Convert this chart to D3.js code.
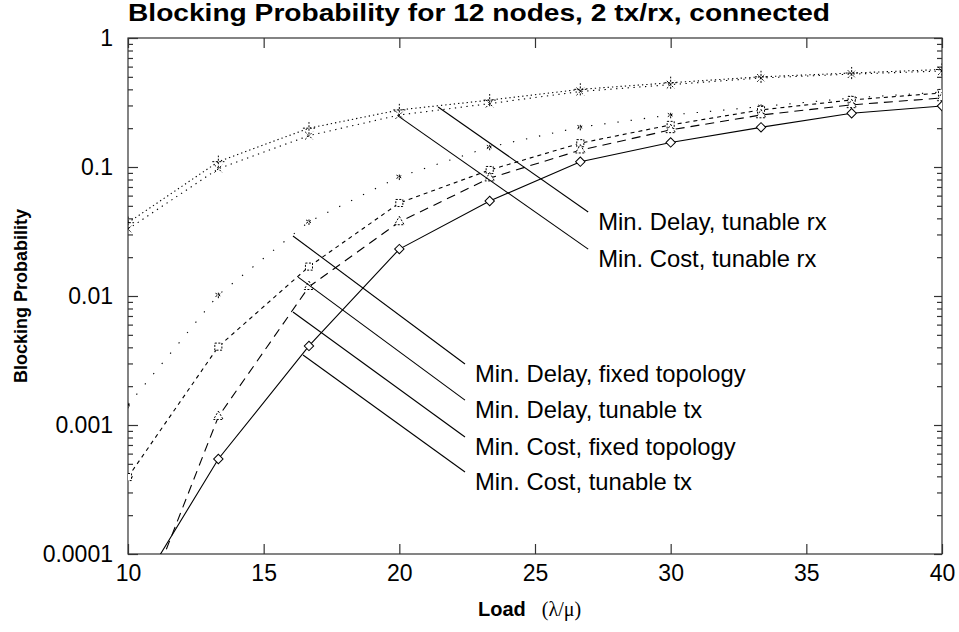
<!DOCTYPE html>
<html>
<head>
<meta charset="utf-8">
<script src="https://cdn.jsdelivr.net/npm/d3@7"></script>
<style>
  html, body { margin: 0; padding: 0; background: #fff; }
  svg { display: block; }
  text { font-family: "Liberation Sans", Arial, Helvetica, sans-serif; fill: #000; }
</style>
</head>
<body>
<svg id="chart" width="959" height="632"></svg>
<script>
// ---------- data ----------
const loads = [10, 13.33, 16.67, 20, 23.33, 26.67, 30, 33.33, 36.67, 40];

const minDelayTunableRx   = [0.037, 0.110, 0.200, 0.277, 0.330, 0.400, 0.450, 0.500, 0.535, 0.570];
const minCostTunableRx    = [0.033, 0.097, 0.175, 0.253, 0.310, 0.385, 0.435, 0.490, 0.525, 0.555];
const minDelayTunableTx   = [0.00143, 0.0102, 0.0377, 0.084, 0.143, 0.204, 0.253, 0.294, 0.343, 0.381];
const minDelayFixed       = [0.000395, 0.00405, 0.0169, 0.0526, 0.0948, 0.153, 0.212, 0.277, 0.331, 0.375];
const minCostFixed        = [0.000019, 0.00116, 0.0118, 0.0375, 0.082, 0.135, 0.194, 0.253, 0.303, 0.343];
const minCostTunableTx    = [0.0000385, 0.000545, 0.0041, 0.0231, 0.0545, 0.110, 0.155, 0.203, 0.261, 0.297];

const seriesNames = [
  "Min. Delay, tunable rx",
  "Min. Cost, tunable rx",
  "Min. Delay, tunable tx",
  "Min. Delay, fixed topology",
  "Min. Cost, fixed topology",
  "Min. Cost, tunable tx"
];
const seriesValues = [minDelayTunableRx, minCostTunableRx, minDelayTunableTx, minDelayFixed, minCostFixed, minCostTunableTx];

const xTicks = [10, 15, 20, 25, 30, 35, 40];
const yTicks = [0.0001, 0.001, 0.01, 0.1, 1];
const yTickLabels = ["0.0001", "0.001", "0.01", "0.1", "1"];

const titleText = "Blocking Probability for 12 nodes, 2 tx/rx, connected";
const yLabel = "Blocking Probability";
const xLabelBold = "Load";
const xLabelUnit = "(\u03BB/\u03BC)";

// leader lines: [start load, start prob] -> [end load, end prob]
const annotations = [
  { name: "Min. Delay, tunable rx",     from: [21.43, 0.292],  to: [26.96, 0.0448] },
  { name: "Min. Cost, tunable rx",      from: [19.95, 0.249],  to: [26.96, 0.0231] },
  { name: "Min. Delay, fixed topology", from: [16.08, 0.0292], to: [22.42, 0.00297] },
  { name: "Min. Delay, tunable tx",     from: [16.27, 0.0140], to: [22.42, 0.00156] },
  { name: "Min. Cost, fixed topology",  from: [16.08, 0.00751], to: [22.42, 0.000807] },
  { name: "Min. Cost, tunable tx",      from: [16.45, 0.00349], to: [22.42, 0.000432] }
];

// ---------- styles ----------
const styles = {
  "Min. Delay, tunable rx":     { dash: "1.3,3",   symbol: d3.symbolPlus,     size: 50, rot: 0 },
  "Min. Cost, tunable rx":      { dash: "1.3,4.5", symbol: d3.symbolTimes,    size: 40, rot: 0 },
  "Min. Delay, tunable tx":     { dash: "1.3,12",  symbol: d3.symbolAsterisk, size: 30, rot: 0 },
  "Min. Delay, fixed topology": { dash: "4,4",     symbol: d3.symbolSquare,   size: 50, rot: 0 },
  "Min. Cost, fixed topology":  { dash: "9,6",     symbol: d3.symbolTriangle, size: 40, rot: 0 },
  "Min. Cost, tunable tx":      { dash: null,      symbol: d3.symbolSquare,   size: 44, rot: 45 }
};

// ---------- layout ----------
const svg = d3.select("#chart");
const L = 128, R = 942, T = 38, B = 554;

const x = d3.scaleLinear().domain([10, 40]).range([L, R]);
const y = d3.scaleLog().domain([0.0001, 1]).range([B, T]);

svg.append("defs").append("clipPath").attr("id", "plotclip")
  .append("rect").attr("x", L).attr("y", T).attr("width", R - L).attr("height", B - T);

// frame
const axisColor = "#333";
svg.append("rect").attr("x", L).attr("y", T).attr("width", R - L).attr("height", B - T)
  .attr("fill", "none").attr("stroke", axisColor).attr("stroke-width", 1.2);

// y ticks (major & minor), left & right, inward
const minorVals = [];
for (let e = -4; e < 0; e++) for (let m = 2; m <= 9; m++) minorVals.push(m * Math.pow(10, e));

const yAxisL = d3.axisRight(y).tickValues(yTicks).tickSize(10).tickFormat("");
const yAxisLm = d3.axisRight(y).tickValues(minorVals).tickSize(5).tickFormat("");
const yAxisR = d3.axisLeft(y).tickValues(yTicks).tickSize(8).tickFormat("");
const yAxisRm = d3.axisLeft(y).tickValues(minorVals).tickSize(5).tickFormat("");
const xAxisB = d3.axisTop(x).tickValues(xTicks).tickSize(10).tickFormat("");
const xAxisT = d3.axisBottom(x).tickValues(xTicks).tickSize(10).tickFormat("");

function addAxis(axis, tx, ty) {
  const g = svg.append("g").attr("transform", `translate(${tx},${ty})`).call(axis);
  g.select(".domain").remove();
  g.selectAll("line").attr("stroke", axisColor).attr("stroke-width", 1.2);
  return g;
}
addAxis(yAxisL, L, 0);
addAxis(yAxisLm, L, 0);
addAxis(yAxisR, R, 0);
addAxis(yAxisRm, R, 0);
addAxis(xAxisB, 0, B);
addAxis(xAxisT, 0, T);

// tick labels
const yLabAxis = d3.axisLeft(y).tickValues(yTicks).tickSize(0).tickPadding(15)
  .tickFormat((d, i) => yTickLabels[i]);
const gyl = svg.append("g").attr("transform", `translate(${L},0)`).call(yLabAxis);
gyl.select(".domain").remove();
gyl.selectAll("text").style("font-size", "23px").attr("fill", "#000")
  .style("font-family", "Liberation Sans, Arial, sans-serif");

const xLabAxis = d3.axisBottom(x).tickValues(xTicks).tickSize(0).tickPadding(11)
  .tickFormat(d3.format("d"));
const gxl = svg.append("g").attr("transform", `translate(0,${B})`).call(xLabAxis);
gxl.select(".domain").remove();
gxl.selectAll("text").style("font-size", "23px").attr("fill", "#000")
  .style("font-family", "Liberation Sans, Arial, sans-serif");

// title
svg.append("text").attr("x", 479).attr("y", 21).attr("text-anchor", "middle")
  .attr("textLength", 702).attr("lengthAdjust", "spacingAndGlyphs")
  .style("font-size", "23px").style("font-weight", "bold").text(titleText);

// y label
svg.append("text").attr("transform", `translate(27,${(T + B) / 2}) rotate(-90)`)
  .attr("text-anchor", "middle").style("font-size", "18px").style("font-weight", "bold")
  .text(yLabel);

// x label
const xl = svg.append("text").attr("x", 478).attr("y", 616).style("font-size", "20px");
xl.append("tspan").style("font-weight", "bold").text(xLabelBold);
xl.append("tspan").attr("dx", 16).style("font-family", "Liberation Serif, Times New Roman, serif")
  .style("font-size", "20px").text(xLabelUnit);

// ---------- series ----------
const plot = svg.append("g").attr("clip-path", "url(#plotclip)");
const line = d3.line().x(d => x(d[0])).y(d => y(d[1]));

seriesNames.forEach((name, si) => {
  const pts = loads.map((l, i) => [l, seriesValues[si][i]]);
  const st = styles[name];
  plot.append("path").datum(pts).attr("d", line)
    .attr("fill", "none").attr("stroke", "#000").attr("stroke-width", 1.1)
    .attr("stroke-dasharray", st.dash);
  const sym = d3.symbol().type(st.symbol).size(st.size);
  const filled = st.symbol === d3.symbolSquare || st.symbol === d3.symbolTriangle;
  plot.selectAll(null).data(pts).enter().append("path")
    .attr("d", sym)
    .attr("transform", d => `translate(${x(d[0])},${y(d[1])}) rotate(${st.rot})`)
    .attr("fill", filled ? "#fff" : "none")
    .attr("stroke", "#000").attr("stroke-width", 1)
    .attr("stroke-dasharray", st.dash ? "2,1.5" : null);
});

// ---------- annotations ----------
annotations.forEach(a => {
  const x0 = x(a.from[0]), y0 = y(a.from[1]);
  const x1 = x(a.to[0]), y1 = y(a.to[1]);
  svg.append("line").attr("x1", x0).attr("y1", y0).attr("x2", x1).attr("y2", y1)
    .attr("stroke", "#000").attr("stroke-width", 1.1);
  svg.append("text").attr("x", x1 + 10).attr("y", y1 + 18)
    .style("font-size", "23.8px").text(a.name);
});
</script>
</body>
</html>
